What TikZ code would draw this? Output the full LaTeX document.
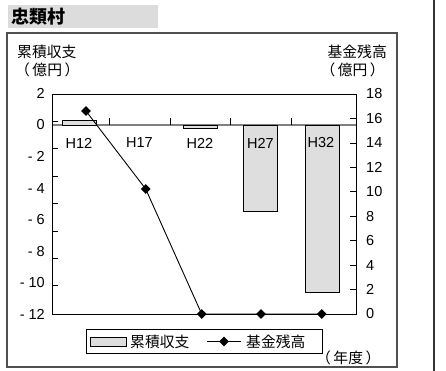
\documentclass[tikz,border=0pt]{standalone}
\usepackage{fontspec}
\setmainfont{Liberation Sans}
\newfontfamily\jpfont{Noto Sans CJK JP}
\usetikzlibrary{shapes.geometric}
\definecolor{titlegray}{HTML}{DCDCDC}
\definecolor{bargray}{HTML}{DEDEDE}
\definecolor{framegray}{HTML}{505050}
\newcommand\pl{（\hspace{2.5pt}}
\newcommand\pr{\hspace{2.5pt}）}
\tikzset{
  numlabel/.style={inner sep=0, font=\fontsize{14.5}{14.5}\selectfont},
  jplabel/.style={inner sep=0, font=\jpfont\fontsize{14.8}{14.8}\selectfont},
  barbox/.style={draw=black, line width=0.7pt, fill=bargray},
  dotmark/.style={diamond, fill=black, inner sep=0, minimum size=10pt},
}

\begin{document}
\begin{tikzpicture}[x=1pt,y=-1pt]
			\useasboundingbox (0,0) rectangle (446,371);
			%%%%% START %%%%%
			\fill[titlegray] (8,5) rectangle (158,28);
			\node[anchor=west, inner sep=0, font=\jpfont\bfseries\fontsize{18}{18}\selectfont] (title) at (11,16.5) {忠類村};
			
			\draw[framegray, line width=1.1pt] (7,33) rectangle (397,367);
			\draw[black!80, line width=1.4pt] (434,0) -- (434,371);
			
			\node[jplabel, anchor=west] (lefthead) at (17,52) {累積収支};
			\node[jplabel, anchor=west] (leftunit) at (15,70) {\pl 億円\pr};
			\node[jplabel, anchor=east] (righthead) at (387,52) {基金残高};
			\node[jplabel, anchor=east] (rightunit) at (385,70) {\pl 億円\pr};
			
			% zero line and bars
			\draw[black!50, line width=1.3pt] (52,125) -- (356,125);
			\draw[barbox] (62,120.5) rectangle (96,125);
			\draw[barbox] (183,125) rectangle (217,128);
			\draw[barbox] (243,125) rectangle (277,211);
			\draw[barbox] (305,125) rectangle (339,292);
			\foreach \x in {109,170,230,291}
				\draw[line width=0.7pt] (\x,118) -- (\x,125);
			
			\draw[line width=0.9pt] (52,94) rectangle (356,314);
			
			% left axis
			\foreach \k in {1,...,7}
				\draw[line width=0.7pt] (52,{94+27.375*\k}) -- ++(6,0);
			\foreach \v/\t in {2/2,0/0,-2/- 2,-4/- 4,-6/- 6,-8/- 8,-10/- 10,-12/- 12}
				\node[numlabel, anchor=east] at (45,{125-15.786*\v}) {\t};
			
			% right axis
			\foreach \v in {1,...,8}
				\draw[line width=0.7pt] (350,{314-24.444*\v}) -- ++(6,0);
			\foreach \v in {0,2,...,18}
				\node[numlabel, anchor=west] at (366,{314-12.222*\v}) {\v};
			
			\node[numlabel] (h12) at (79,143) {H12};
			\node[numlabel] (h17) at (139.5,143) {H17};
			\node[numlabel] (h22) at (200,143) {H22};
			\node[numlabel] (h27) at (260.5,143) {H27};
			\node[numlabel] (h32) at (321,143) {H32};
			
			% fund line
			\coordinate (f12) at (86,111);
			\coordinate (f17) at (145.7,189);
			\coordinate (f22) at (201.7,314);
			\coordinate (f27) at (261,314);
			\coordinate (f32) at (321.7,314);
			\draw[line width=0.9pt] (f12) -- (f17) -- (f22) -- (f27) -- (f32);
			\foreach \p in {f12,f17,f22,f27,f32}
				\node[dotmark] at (\p) {};
			
			% legend
			\draw[line width=0.8pt] (86,329) rectangle (322,353);
			\draw[barbox] (90,337) rectangle (126,346);
			\node[jplabel, anchor=west] (legbar) at (130,341.5) {累積収支};
			\coordinate (legl) at (207,341.5);
			\coordinate (legr) at (241,341.5);
			\draw[line width=0.9pt] (legl) -- (legr);
			\node[dotmark] (legdot) at (224,341.5) {};
			\node[jplabel, anchor=west] (legline) at (246,341.5) {基金残高};
			
			\node[jplabel, anchor=west] (yearunit) at (316,358) {\pl 年度\pr};
			%%%%% END %%%%%
		\end{tikzpicture}
\end{document}
